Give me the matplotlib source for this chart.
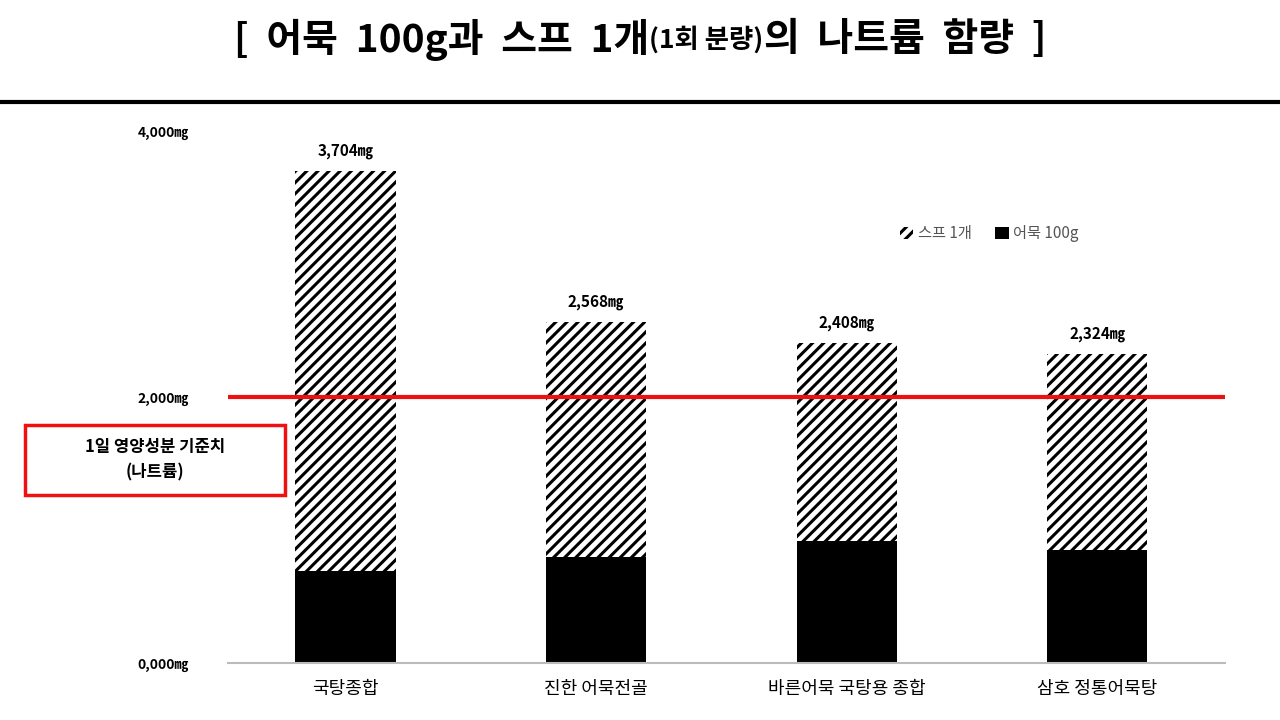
import matplotlib
matplotlib.use("Agg")
import matplotlib.pyplot as plt
from matplotlib.patches import Rectangle, Patch

plt.rcParams['font.family'] = ['Noto Sans CJK KR', 'DejaVu Sans']
plt.rcParams['hatch.linewidth'] = 2.2

categories = ["국탕종합", "진한 어묵전골", "바른어묵 국탕용 종합", "삼호 정통어묵탕"]
totals = [3704, 2568, 2408, 2324]
fishcake = [690, 800, 920, 850]
soup = [t - f for t, f in zip(totals, fishcake)]
yticks = [0, 2000, 4000]
ytick_labels = ["0,000㎎", "2,000㎎", "4,000㎎"]
standard = 2000

fig = plt.figure(figsize=(12.8, 7.2), dpi=100)
ax = fig.add_axes([0.178, 0.079, 0.779, 0.738])
x = range(len(categories))
ax.bar(x, fishcake, width=0.4, color='black', label='어묵 100g')
ax.bar(x, soup, bottom=fishcake, width=0.4, color='white', edgecolor='black',
       hatch='///', linewidth=0, label='스프 1개')
for i, t in enumerate(totals):
    ax.text(i, t + 90, f"{t:,}㎎", ha='center', va='bottom', fontsize=11, fontweight='bold')
ax.axhline(standard, color='#ee1111', lw=3)
ax.set_xlim(-0.47, 3.51)
ax.set_ylim(0, 4000)
ax.set_yticks(yticks)
ax.set_yticklabels(ytick_labels, fontsize=10, fontweight='bold')
ax.tick_params(axis='y', length=0, pad=28)
ax.tick_params(axis='x', length=0, pad=12)
ax.set_xticks(list(x))
ax.set_xticklabels(categories, fontsize=13)
for s in ['top', 'right', 'left']:
    ax.spines[s].set_visible(False)
ax.spines['bottom'].set_color('#bbbbbb')
ax.spines['bottom'].set_linewidth(1.5)

handles = [Patch(facecolor='white', edgecolor='black', hatch='///', linewidth=0, label='스프 1개'),
           Patch(facecolor='black', label='어묵 100g')]
ax.legend(handles=handles, loc='upper left', bbox_to_anchor=(0.66, 0.85), ncol=2,
          frameon=False, fontsize=11, handlelength=0.9, handleheight=0.9,
          columnspacing=1.5, handletextpad=0.3, labelcolor='#555555')

# title built piecewise with measured widths
pieces = [("[  어묵  100g과  스프  1개", 28), ("(1회 분량)", 19), ("의  나트륨  함량  ]", 28)]
renderer = fig.canvas.get_renderer()
texts = []
for s, fs in pieces:
    t = fig.text(0, 0.945, s, ha='left', va='center', fontsize=fs, fontweight='bold')
    texts.append(t)
widths = [t.get_window_extent(renderer).width for t in texts]
total = sum(widths)
xpos = (1280 - total) / 2
for t, w in zip(texts, widths):
    t.set_x(xpos / 1280)
    xpos += w
fig.add_artist(plt.Line2D([0, 1], [0.858, 0.858], color='black', lw=3, transform=fig.transFigure))

fig.add_artist(Rectangle((25/1280, 1-495/720), 260/1280, 70/720, transform=fig.transFigure,
                         fill=False, edgecolor='#ee1111', lw=2.5))
fig.text(155/1280, 1-460/720, "1일 영양성분 기준치\n(나트륨)", ha='center', va='center',
         fontsize=12, fontweight='bold', linespacing=1.5)

fig.savefig("out.png", dpi=100)
